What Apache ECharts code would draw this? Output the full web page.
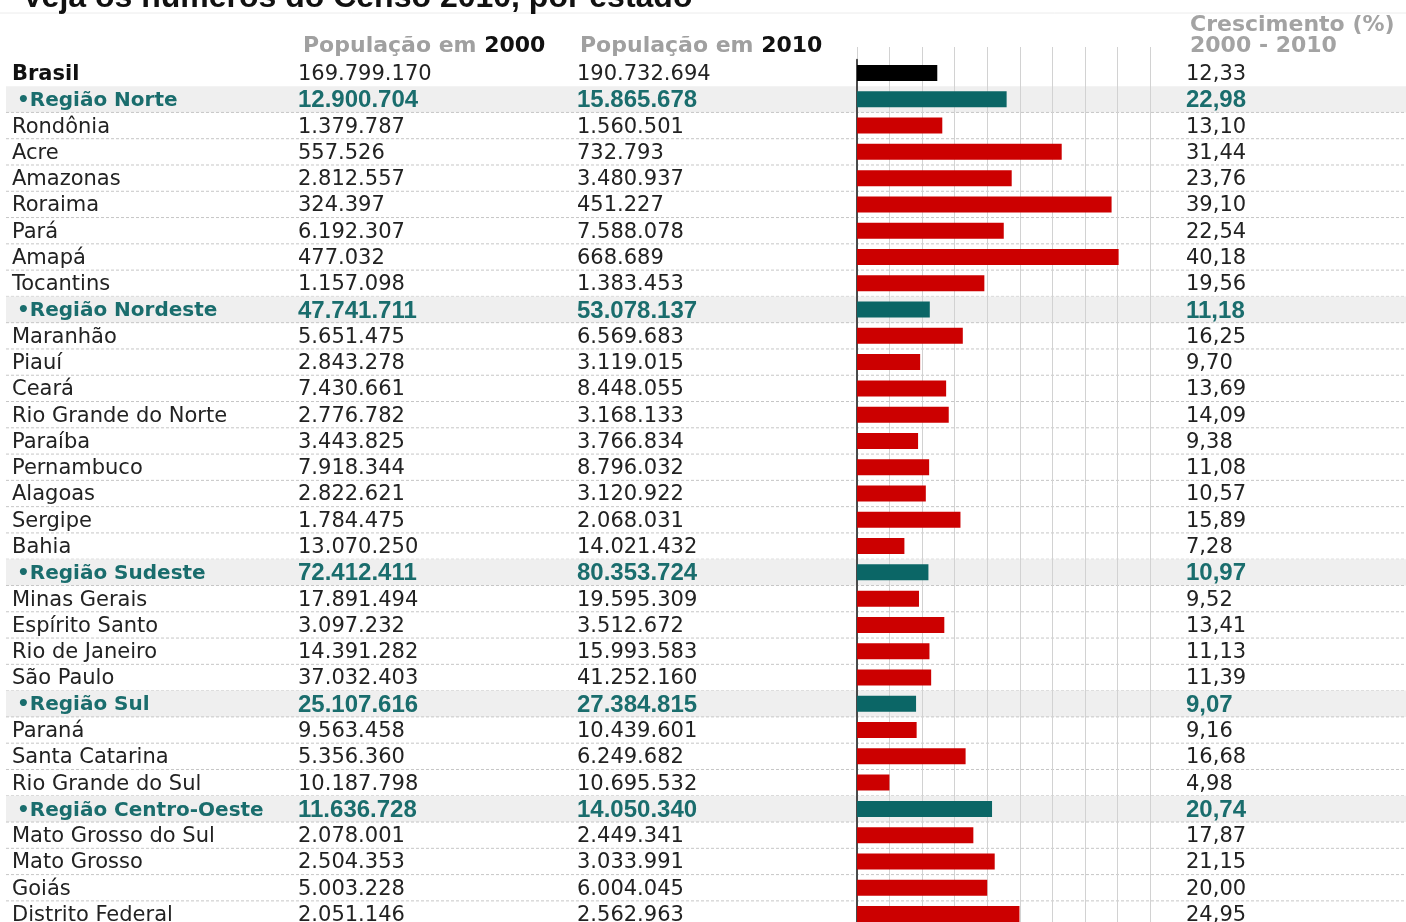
<!DOCTYPE html>
<html><head><meta charset="utf-8">
<script src="https://cdn.jsdelivr.net/npm/echarts@6/dist/echarts.min.js"></script>
<style>html,body{margin:0;padding:0;background:#fff}#c{width:1406px;height:922px}</style>
</head><body><div id="c"></div>
<script>
const names = ['Brasil','Região Norte','Rondônia','Acre','Amazonas','Roraima','Pará','Amapá','Tocantins',
  'Região Nordeste','Maranhão','Piauí','Ceará','Rio Grande do Norte','Paraíba','Pernambuco','Alagoas','Sergipe','Bahia',
  'Região Sudeste','Minas Gerais','Espírito Santo','Rio de Janeiro','São Paulo',
  'Região Sul','Paraná','Santa Catarina','Rio Grande do Sul',
  'Região Centro-Oeste','Mato Grosso do Sul','Mato Grosso','Goiás','Distrito Federal'];
const rowTypes = ['t','r','s','s','s','s','s','s','s',
  'r','s','s','s','s','s','s','s','s','s',
  'r','s','s','s','s',
  'r','s','s','s',
  'r','s','s','s','s'];
const pop2000 = [169799170,12900704,1379787,557526,2812557,324397,6192307,477032,1157098,
  47741711,5651475,2843278,7430661,2776782,3443825,7918344,2822621,1784475,13070250,
  72412411,17891494,3097232,14391282,37032403,
  25107616,9563458,5356360,10187798,
  11636728,2078001,2504353,5003228,2051146];
const pop2010 = [190732694,15865678,1560501,732793,3480937,451227,7588078,668689,1383453,
  53078137,6569683,3119015,8448055,3168133,3766834,8796032,3120922,2068031,14021432,
  80353724,19595309,3512672,15993583,41252160,
  27384815,10439601,6249682,10695532,
  14050340,2449341,3033991,6004045,2562963];
const growth = [12.33,22.98,13.10,31.44,23.76,39.10,22.54,40.18,19.56,
  11.18,16.25,9.70,13.69,14.09,9.38,11.08,10.57,15.89,7.28,
  10.97,9.52,13.41,11.13,11.39,
  9.07,9.16,16.68,4.98,
  20.74,17.87,21.15,20.00,24.95];
const growthAxis = {min:0, max:45, interval:5};

const fmtInt = n => String(n).replace(/\B(?=(\d{3})+(?!\d))/g,'.');
const fmtPct = v => v.toFixed(2).replace('.',',');

const TEAL_TXT = '#1a6d6d', TEAL_BAR = '#0b6666', RED = '#cc0000';
const barColor = {t:'#000000', r:TEAL_BAR, s:RED};
const N = names.length;
const PAD = [3,0,0,0];

const richName = {
  t:{fontFamily:'DejaVu Sans', fontWeight:'bold', fontSize:21, color:'#111', padding:PAD},
  r:{fontFamily:'DejaVu Sans', fontWeight:'bold', fontSize:20, color:TEAL_TXT, padding:[3,0,0,5]},
  s:{fontFamily:'DejaVu Sans', fontSize:21, color:'#222', padding:PAD}
};
const richNum = {
  t:{fontFamily:'DejaVu Sans', fontSize:21, color:'#222', padding:PAD},
  r:{fontFamily:'Liberation Sans', fontWeight:'bold', fontSize:24, color:TEAL_TXT, padding:PAD},
  s:{fontFamily:'DejaVu Sans', fontSize:21, color:'#222', padding:PAD}
};

function labelAxis(position, margin, textFn, rich){
  return {
    type:'category', gridIndex:0, data:names, inverse:true, position:position,
    axisLine:{show:false}, axisTick:{show:false}, splitLine:{show:false},
    axisLabel:{interval:0, margin:margin, align:'left',
      formatter:(v,i)=>'{'+rowTypes[i]+'|'+textFn(i)+'}', rich:rich}
  };
}

const hdrRich = {
  g:{fontFamily:'DejaVu Sans', fontWeight:'bold', fontSize:22, fill:'#a0a0a0'},
  b:{fontFamily:'DejaVu Sans', fontWeight:'bold', fontSize:22, fill:'#111111'}
};

const chart = echarts.init(document.getElementById('c'));
const option = {
  animation:false,
  backgroundColor:'#ffffff',
  grid:[
    {left:857, width:293, top:59.86, height:867.3, outerBoundsMode:'none', containLabel:false},
    {left:857, width:293, top:47, bottom:0, outerBoundsMode:'none', containLabel:false}
  ],
  xAxis:[
    {type:'value', gridIndex:0, min:growthAxis.min, max:growthAxis.max, interval:growthAxis.interval,
      axisLine:{show:false}, axisTick:{show:false}, axisLabel:{show:false}, splitLine:{show:false}},
    {type:'value', gridIndex:1, min:growthAxis.min, max:growthAxis.max, interval:growthAxis.interval,
      axisLine:{show:false}, axisTick:{show:false}, axisLabel:{show:false},
      splitLine:{show:true, lineStyle:{color:'#d2d2d2', width:1}}}
  ],
  yAxis:[
    {type:'category', gridIndex:0, data:names, inverse:true, position:'left',
      axisLine:{show:true, onZero:false, lineStyle:{color:'#4a4a4a', width:2}},
      axisTick:{show:false}, splitLine:{show:false},
      axisLabel:{interval:0, margin:845, align:'left',
        formatter:(v,i)=>'{'+rowTypes[i]+'|'+(rowTypes[i]==='r'?'•':'')+v+'}', rich:richName}},
    labelAxis('left', 559, i=>fmtInt(pop2000[i]), richNum),
    labelAxis('left', 280, i=>fmtInt(pop2010[i]), richNum),
    labelAxis('right', 36, i=>fmtPct(growth[i]), richNum),
    {type:'value', gridIndex:1, show:false, min:0, max:1}
  ],
  graphic:[
    {type:'line', silent:true, shape:{x1:0,y1:13,x2:1406,y2:13}, style:{stroke:'#ececec', lineWidth:1}},
    {type:'text', silent:true, x:22, y:-2, style:{text:'Veja os números do Censo 2010, por estado',
      font:'bold 32px "Liberation Sans"', fill:'#111', verticalAlign:'middle'}},
    {type:'text', silent:true, x:303, y:46, style:{text:'{g|População em }{b|2000}', verticalAlign:'middle', rich:hdrRich}},
    {type:'text', silent:true, x:580, y:46, style:{text:'{g|População em }{b|2010}', verticalAlign:'middle', rich:hdrRich}},
    {type:'text', silent:true, x:1190, y:25, style:{text:'Crescimento (%)', verticalAlign:'middle',
      font:'bold 22px "DejaVu Sans"', fill:'#a3a3a3'}},
    {type:'text', silent:true, x:1190, y:46, style:{text:'2000 - 2010', verticalAlign:'middle',
      font:'bold 22px "DejaVu Sans"', fill:'#a3a3a3'}}
  ],
  series:[
    {type:'custom', xAxisIndex:0, yAxisIndex:0, z:-1, silent:true, clip:false,
      data:names.map((_,i)=>[0,i]),
      encode:{x:0, y:1},
      renderItem:(params, api)=>{
        const i = api.value(1);
        const y = api.coord([0,i])[1];
        const h = api.size([0,1])[1];
        const W = api.getWidth();
        const ch = [];
        if (rowTypes[i]==='r') ch.push({type:'rect', shape:{x:6, y:y-h/2, width:W-6, height:h}, style:{fill:'#efefef'}});
        if (i>0 && i<N-1) ch.push({type:'line', shape:{x1:6, y1:y+h/2, x2:W, y2:y+h/2},
          style:{stroke:'#c6c6c6', lineWidth:1, lineDash:[3,2]}});
        return {type:'group', children:ch};
      }},
    {type:'bar', xAxisIndex:0, yAxisIndex:0, barWidth:16, z:3, silent:true,
      data:growth.map((v,i)=>({value:v, itemStyle:{color:barColor[rowTypes[i]]}}))}
  ]
};
chart.setOption(option);
</script>
</body></html>
